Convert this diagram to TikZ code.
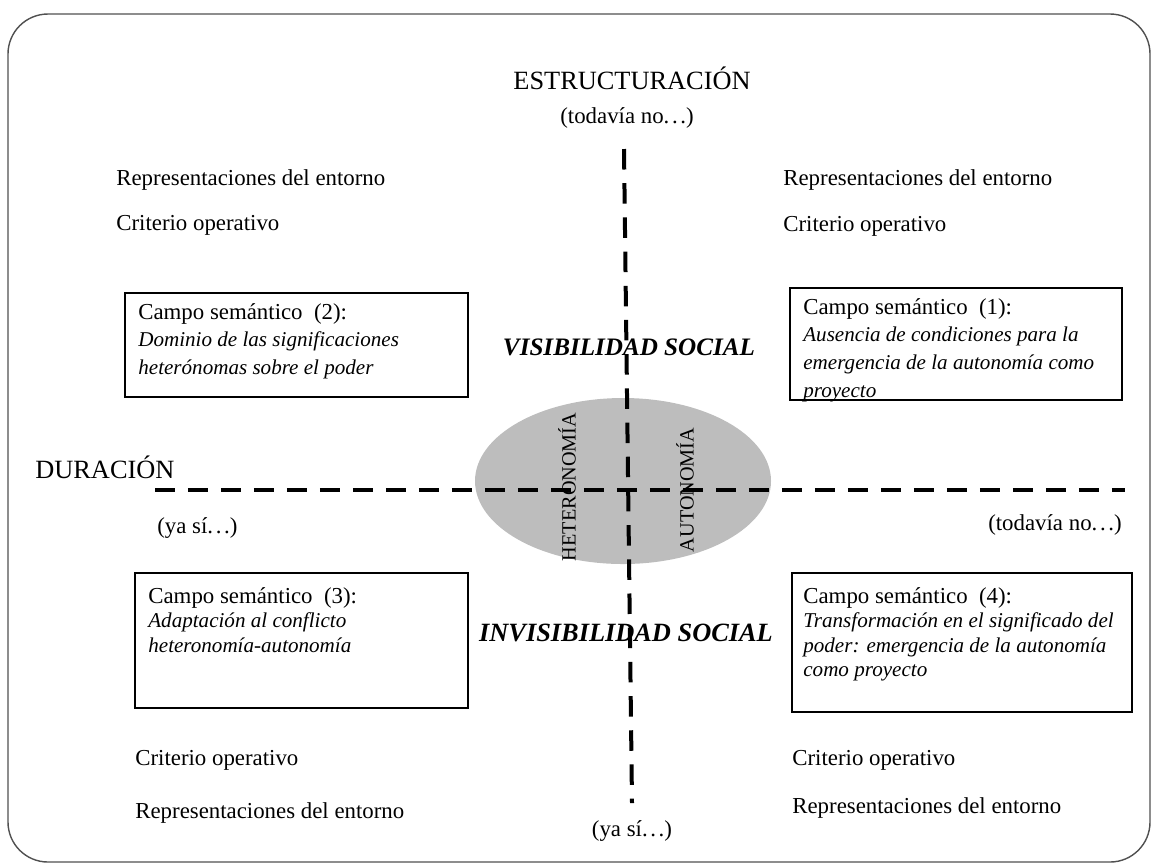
\documentclass[tikz,border=0pt]{standalone}
\usepackage{fontspec}
\setmainfont{Liberation Serif}
\usetikzlibrary{shapes.geometric}
\definecolor{ellgray}{HTML}{BDBDBD}
\definecolor{framegray}{HTML}{505050}
\tikzset{
  plain/.style={inner sep=0pt, font=\fontsize{13}{15}\selectfont},
  axislabel/.style={inner sep=0pt, font=\fontsize{15}{17}\selectfont},
  bigital/.style={inner sep=0pt, font=\fontsize{14.3}{17}\selectfont\bfseries\itshape},
  boxframe/.style={draw=black, line width=0.7pt, inner sep=0pt},
  boxtextA/.style={inner sep=0pt, anchor=north west, align=left, font=\fontsize{13}{15.7}\selectfont},
  boxtextB/.style={inner sep=0pt, anchor=north west, align=left, font=\fontsize{13}{13.9}\selectfont},
  axisline/.style={line width=0.08cm, dash pattern=on 0.4cm off 0.26cm},
  vaxisline/.style={line width=0.08cm, dash pattern=on 0.41cm off 0.274cm},
  vlabel/.style={inner sep=0pt, rotate=90, font=\fontsize{11.5}{14}\selectfont}
}
\newcommand{\ital}[1]{{\itshape\fontsize{12}{\baselineskip}\selectfont #1}}
\newcommand{\mydots}{.\kern1.5pt.\kern1.5pt.}
\begin{document}
\begin{tikzpicture}[x=0.02cm,y=-0.02cm]
\useasboundingbox (0,0) rectangle (1155,867);
% outer frame
\draw[framegray, line width=0.8pt, rounded corners=0.8cm] (8,14) rectangle (1150,862);

% ellipse
\node[ellipse, fill=ellgray, minimum width=296*0.02cm, minimum height=166*0.02cm, inner sep=0pt] (ell) at (623,481) {};
\node[vlabel] (het) at (567,487) {HETERONOMÍA};
\node[vlabel] (aut) at (685,490) {AUTONOMÍA};

% axis titles
\node[axislabel] (estr) at (632,78) {ESTRUCTURACIÓN};
\node[plain] (tn1) at (627,118) {(todavía no\mydots)};
\node[axislabel, anchor=west] (dur) at (35,467) {DURACIÓN};
\node[plain, anchor=west] (ys1) at (157,528) {(ya sí\mydots)};
\node[plain, anchor=east] (tn2) at (1122,525) {(todavía no\mydots)};
\node[plain] (ys2) at (632,831) {(ya sí\mydots)};

% corner texts
\node[plain, anchor=west] (rTL) at (116,180) {Representaciones del entorno};
\node[plain, anchor=west] (cTL) at (116,225) {Criterio operativo};
\node[plain, anchor=west] (rTR) at (783,180) {Representaciones del entorno};
\node[plain, anchor=west] (cTR) at (783,226) {Criterio operativo};
\node[plain, anchor=west] (cBL) at (135,760) {Criterio operativo};
\node[plain, anchor=west] (rBL) at (135,813) {Representaciones del entorno};
\node[plain, anchor=west] (cBR) at (792,760) {Criterio operativo};
\node[plain, anchor=west] (rBR) at (792,808) {Representaciones del entorno};

% boxes
\draw[boxframe] (125,293) rectangle (468,397);
\node[boxtextA] (b2) at (138,303) {Campo semántico \ (2):\\ \ital{Dominio de las significaciones}\\ \ital{heterónomas sobre el poder}};

\draw[boxframe] (790,288) rectangle (1122,400);
\node[boxtextA] (b1) at (803,298) {Campo semántico \ (1):\\ \ital{Ausencia de condiciones para la}\\ \ital{emergencia de la autonomía como}\\ \ital{proyecto}};

\draw[boxframe] (135,573) rectangle (468,708);
\node[boxtextB] (b3) at (148,587) {Campo semántico \ (3):\\ \ital{Adaptación al conflicto}\\ \ital{heteronomía-autonomía}};

\draw[boxframe] (792,573) rectangle (1132,712);
\node[boxtextB] (b4) at (803,587) {Campo semántico \ (4):\\ \ital{Transformación en el significado del}\\ \ital{poder: emergencia de la autonomía}\\ \ital{como proyecto}};

% social visibility
\node[bigital] (vis) at (629,347) {VISIBILIDAD SOCIAL};
\node[bigital, font=\fontsize{15}{17}\selectfont\bfseries\itshape] (invis) at (626,633) {INVISIBILIDAD SOCIAL};

% axes
\coordinate (vtop) at (624,149);
\coordinate (vbot) at (632,803);
\coordinate (hl) at (155,490);
\coordinate (hr) at (1125,490);
\draw[vaxisline] (vtop) -- (vbot);
\draw[axisline] (hl) -- (hr);
\end{tikzpicture}
\end{document}
